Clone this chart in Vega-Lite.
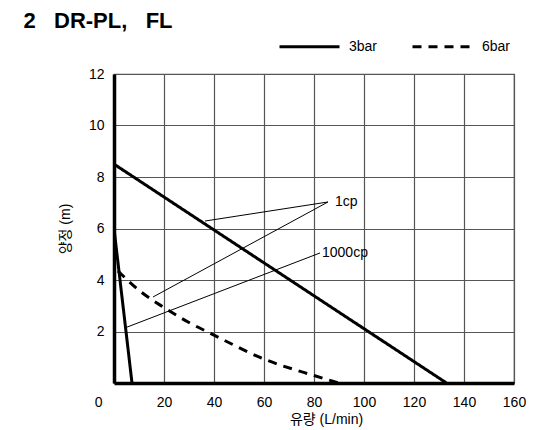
{
  "$schema": "https://vega.github.io/schema/vega-lite/v6.json",
  "width": 400,
  "height": 309,
  "autosize": {"type": "none"},
  "padding": {"left": 114, "top": 74, "right": 25, "bottom": 47},
  "background": "white",
  "title": {
    "text": "2\u00a0\u00a0\u00a0DR-PL,\u00a0\u00a0\u00a0FL",
    "anchor": "start",
    "dx": -35,
    "offset": 0,
    "dy": 18,
    "fontSize": 22,
    "fontWeight": "bold",
    "font": "Liberation Sans",
    "color": "black"
  },
  "config": {
    "view": {"stroke": "#555", "strokeWidth": 1.2},
    "axis": {
      "labelFont": "Liberation Sans",
      "labelFontSize": 14,
      "labelColor": "black",
      "titleFont": "Liberation Sans, Noto Sans CJK KR",
      "titleFontSize": 14,
      "titleFontWeight": "normal",
      "titleColor": "black",
      "domainColor": "black",
      "domainWidth": 3.5,
      "ticks": false,
      "gridColor": "#555",
      "gridWidth": 1.2,
      "gridOpacity": 1
    }
  },
  "datasets": {
    "curves": [
      {"curve": "3bar-1cp", "pressure": "3bar", "flow": 0, "head": 8.5},
      {"curve": "3bar-1cp", "pressure": "3bar", "flow": 133, "head": 0},
      {"curve": "3bar-1000cp", "pressure": "3bar", "flow": 0, "head": 6},
      {"curve": "3bar-1000cp", "pressure": "3bar", "flow": 7.2, "head": 0},
      {"curve": "6bar-1cp", "pressure": "6bar", "flow": 1.6, "head": 4.35},
      {"curve": "6bar-1cp", "pressure": "6bar", "flow": 10, "head": 3.6},
      {"curve": "6bar-1cp", "pressure": "6bar", "flow": 20, "head": 2.93},
      {"curve": "6bar-1cp", "pressure": "6bar", "flow": 30, "head": 2.35},
      {"curve": "6bar-1cp", "pressure": "6bar", "flow": 40, "head": 1.86},
      {"curve": "6bar-1cp", "pressure": "6bar", "flow": 60, "head": 0.93},
      {"curve": "6bar-1cp", "pressure": "6bar", "flow": 80, "head": 0.29},
      {"curve": "6bar-1cp", "pressure": "6bar", "flow": 90, "head": 0}
    ],
    "leaders": [
      {"x1": 85.6, "y1": 7.03, "x2": 36.4, "y2": 6.29},
      {"x1": 85.6, "y1": 7.03, "x2": 15.6, "y2": 3.34},
      {"x1": 82.4, "y1": 5.05, "x2": 5.2, "y2": 2.17}
    ],
    "labels": [
      {"label": "1cp", "x": 88.4, "y": 7.03},
      {"label": "1000cp", "x": 83.2, "y": 5.05}
    ]
  },
  "layer": [
    {
      "data": {"name": "curves"},
      "mark": {"type": "line", "color": "black", "strokeWidth": 3, "interpolate": "monotone", "clip": true},
      "encoding": {
        "x": {
          "field": "flow", "type": "quantitative",
          "scale": {"domain": [0, 160], "nice": false},
          "axis": {
            "values": [0, 20, 40, 60, 80, 100, 120, 140, 160],
            "title": "유량 (L/min)",
            "titleX": 212,
            "titleAlign": "center",
            "labelPadding": 12,
            "titlePadding": 3,
            "labelAlign": {"condition": {"test": "datum.value == 0", "value": "right"}, "value": "center"},
            "labelOffset": {"condition": {"test": "datum.value == 0", "value": -12}, "value": 0}
          }
        },
        "y": {
          "field": "head", "type": "quantitative",
          "scale": {"domain": [0, 12], "nice": false},
          "axis": {
            "values": [2, 4, 6, 8, 10, 12],
            "title": "양정 (m)",
            "labelPadding": 10,
            "titlePadding": 16
          }
        },
        "detail": {"field": "curve"},
        "strokeDash": {
          "field": "pressure", "type": "nominal",
          "scale": {"domain": ["3bar", "6bar"], "range": [[1, 0], [9, 7]]},
          "legend": {
            "orient": "none",
            "legendX": 164,
            "legendY": -59,
            "direction": "horizontal",
            "title": null,
            "symbolType": "stroke",
            "symbolSize": 3600,
            "symbolStrokeWidth": 3,
            "symbolStrokeColor": "black",
            "labelFontSize": 14,
            "labelFont": "Liberation Sans",
            "labelColor": "black",
            "labelOffset": 8,
            "columnPadding": 28
          }
        }
      }
    },
    {
      "data": {"name": "leaders"},
      "mark": {"type": "rule", "color": "black", "strokeWidth": 1},
      "encoding": {
        "x": {"field": "x1", "type": "quantitative"},
        "y": {"field": "y1", "type": "quantitative"},
        "x2": {"field": "x2"},
        "y2": {"field": "y2"}
      }
    },
    {
      "data": {"name": "labels"},
      "mark": {"type": "text", "align": "left", "baseline": "middle", "fontSize": 14, "font": "Liberation Sans", "color": "black"},
      "encoding": {
        "x": {"field": "x", "type": "quantitative"},
        "y": {"field": "y", "type": "quantitative"},
        "text": {"field": "label"}
      }
    }
  ]
}
